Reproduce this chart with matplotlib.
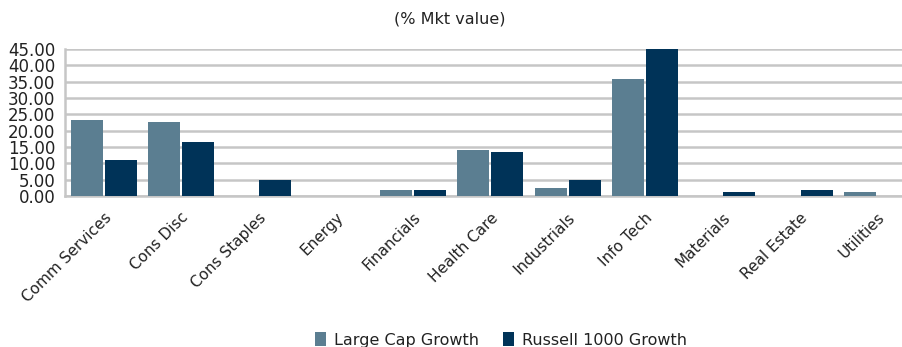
import numpy as np
import matplotlib
matplotlib.use('Agg')
import matplotlib.pyplot as plt

plt.rcParams['font.family'] = ['DejaVu Sans']

sectors = ['Comm Services', 'Cons Disc', 'Cons Staples', 'Energy', 'Financials',
           'Health Care', 'Industrials', 'Info Tech', 'Materials', 'Real Estate', 'Utilities']
large_cap_growth = [23.4, 22.8, 0.0, 0.0, 1.8, 14.1, 2.4, 35.7, 0.0, 0.0, 1.1]
russell_1000_growth = [11.0, 16.6, 5.0, 0.0, 1.8, 13.5, 5.0, 45.0, 1.1, 1.8, 0.0]
yticks = np.arange(0, 45.01, 5)

c_lcg = '#5b7e91'
c_r1g = '#003358'
grid_c = '#c6c6c6'

fig = plt.figure(figsize=(9.03, 3.47), dpi=100)
ax = fig.add_axes([0.072, 0.435, 0.942, 0.424])

x = np.arange(len(sectors))
w = 0.414
ax.bar(x - 0.22, large_cap_growth, width=w, color=c_lcg, label='Large Cap Growth', zorder=3)
ax.bar(x + 0.22, russell_1000_growth, width=w, color=c_r1g, label='Russell 1000 Growth', zorder=3)

ax.set_xlim(-0.5, len(sectors) - 0.5)
ax.set_ylim(0, 45)
ax.set_yticks(yticks)
ax.set_yticklabels([f'{v:.2f}' for v in yticks], fontsize=12, color='#222222')
ax.yaxis.grid(True, color=grid_c, linewidth=1.8, zorder=0)
ax.set_xticks(x)
ax.set_xticklabels(sectors, rotation=45, ha='right', rotation_mode='anchor',
                   fontsize=11, color='#222222')
ax.tick_params(axis='y', length=0, pad=7)
ax.tick_params(axis='x', length=0, pad=10)

for s in ['top', 'right']:
    ax.spines[s].set_visible(False)
ax.spines['left'].set_color(grid_c)
ax.spines['left'].set_linewidth(1.8)
ax.spines['bottom'].set_color(grid_c)
ax.spines['bottom'].set_linewidth(1.8)

fig.text(0.498, 0.945, '(% Mkt value)', ha='center', va='center', fontsize=11.5, color='#222222')

handles, labels = ax.get_legend_handles_labels()
fig.legend(handles, labels, loc='center', bbox_to_anchor=(0.555, 0.02), ncol=2, frameon=False,
           fontsize=11.5, handlelength=0.7, handleheight=0.9, handletextpad=0.5, columnspacing=1.5,
           labelcolor='#222222', borderpad=0.1)

fig.savefig('out.png', dpi=100)
